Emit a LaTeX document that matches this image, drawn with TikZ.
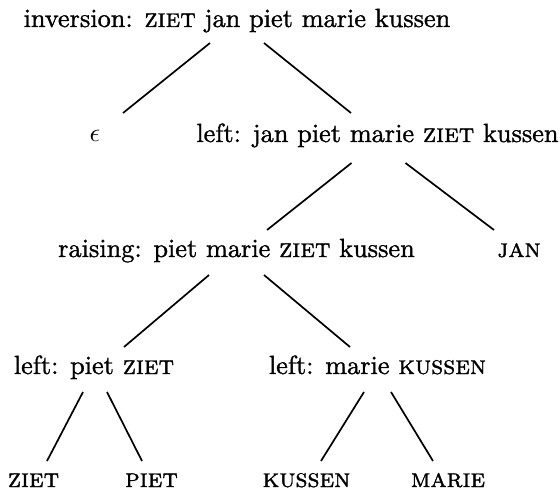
\documentclass[tikz,border=0pt]{standalone}
\usepackage{fontspec}
\setmainfont{lmroman10-regular}[Extension=.otf, FakeBold=1.2,
  SmallCapsFont=lmromancaps10-regular, SmallCapsFeatures={FakeBold=1.2}]
\usetikzlibrary{calc}
\begin{document}
\begin{tikzpicture}[x=1pt,y=-1pt,
  lbl/.style={anchor=base,inner sep=0pt,scale=2.63},
  edge/.style={line width=1.7pt}]
\useasboundingbox (0,0) rectangle (560,492);
\node[lbl] (root) at (237,27) {inversion: \textsc{ziet} jan piet marie kussen};
\node[lbl] (eps) at (95,142) {$\epsilon$};
\node[lbl] (lft) at (377.5,142) {left: jan piet marie \textsc{ziet} kussen};
\node[lbl] (rais) at (236.5,257) {raising: piet marie \textsc{ziet} kussen};
\node[lbl] (jan) at (519,257) {\textsc{jan}};
\node[lbl] (lp) at (94,374) {left: piet \textsc{ziet}};
\node[lbl] (lm) at (377.5,374) {left: marie \textsc{kussen}};
\node[lbl] (z) at (33.5,487) {\textsc{ziet}};
\node[lbl] (p) at (151.5,487) {\textsc{piet}};
\node[lbl] (k) at (306.5,487) {\textsc{kussen}};
\node[lbl] (m) at (448,487) {\textsc{marie}};
\draw[edge] ($(root.base)+(-27,16)$) -- ($(eps.base)+(28,-29)$);
\draw[edge] ($(root.base)+(27,16)$) -- ($(lft.base)+(-26.5,-29)$);
\draw[edge] ($(lft.base)+(-26,21)$) -- ($(rais.base)+(30.5,-27)$);
\draw[edge] ($(lft.base)+(28,21)$) -- ($(jan.base)+(-25,-27)$);
\draw[edge] ($(rais.base)+(-27.5,18)$) -- ($(lp.base)+(30,-27)$);
\draw[edge] ($(rais.base)+(27.5,18)$) -- ($(lm.base)+(-27.5,-27)$);
\draw[edge] ($(lp.base)+(-11,18)$) -- ($(z.base)+(13.5,-26)$);
\draw[edge] ($(lp.base)+(13,18)$) -- ($(p.base)+(-9.5,-26)$);
\draw[edge] ($(lm.base)+(-13.5,18)$) -- ($(k.base)+(14.5,-26)$);
\draw[edge] ($(lm.base)+(13.5,18)$) -- ($(m.base)+(-15,-26)$);
\end{tikzpicture}
\end{document}
